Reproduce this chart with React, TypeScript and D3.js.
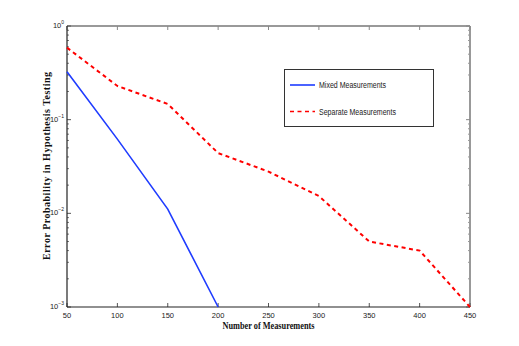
import React from 'react';
import * as d3 from 'd3';

// values (log axis)
const xTicks = [50, 100, 150, 200, 250, 300, 350, 400, 450];
const yDecades = [-3, -2, -1, 0];

const mixedX = [50, 100, 150, 200];
const mixedY = [0.325, 0.062, 0.0111, 0.001];

const sepX = [50, 100, 150, 200, 250, 300, 350, 400, 450];
const sepY = [0.587, 0.229, 0.147, 0.044, 0.0279, 0.0153, 0.005, 0.004, 0.001];

const seriesNames = ['Mixed Measurements', 'Separate Measurements'];
const legendWidths = [67, 77];

export default function App() {
  const width = 519;
  const height = 346;
  const m = { left: 67, right: 49, top: 26, bottom: 39 };

  const x = d3.scaleLinear().domain([50, 450]).range([m.left, width - m.right]);
  const y = d3.scaleLog().domain([1e-3, 1]).range([height - m.bottom, m.top]);

  const line = d3
    .line<[number, number]>()
    .x((d) => x(d[0]))
    .y((d) => y(d[1]));

  const mixed = mixedX.map((v, i) => [v, mixedY[i]] as [number, number]);
  const sep = sepX.map((v, i) => [v, sepY[i]] as [number, number]);

  // minor ticks 2..9 in each decade
  const minor: number[] = [];
  yDecades.slice(0, -1).forEach((e) => {
    for (let k = 2; k < 10; k++) minor.push(k * Math.pow(10, e));
  });

  const x0 = m.left;
  const x1 = width - m.right;
  const y0 = height - m.bottom;
  const y1 = m.top;
  const tickFont = "'Liberation Sans Narrow', 'Liberation Sans', Arial, sans-serif";
  const labelFont = "'Liberation Serif', 'Times New Roman', serif";

  return (
    <svg width={width} height={height} style={{ position: 'absolute', left: 0, top: 0 }}>
      <rect width={width} height={height} fill="#fff" />

      {/* top and right frame (grey) */}
      <line x1={x0} x2={x1} y1={y1} y2={y1} stroke="#999" strokeWidth={2} />
      <line x1={x1} x2={x1} y1={y1} y2={y0} stroke="#999" strokeWidth={2} />

      {/* x ticks */}
      {xTicks.map((t) => (
        <g key={'x' + t}>
          <line x1={x(t)} x2={x(t)} y1={y0} y2={y0 - 4} stroke="#555" />
          <line x1={x(t)} x2={x(t)} y1={y1} y2={y1 + 4} stroke="#888" />
          <text
            x={x(t)}
            y={y0 + 11}
            textAnchor="middle"
            fontFamily={tickFont}
            fontSize={7.5}
            fill="#222"
          >
            {t}
          </text>
        </g>
      ))}

      {/* y ticks */}
      {yDecades.map((e) => {
        const v = Math.pow(10, e);
        return (
          <g key={'y' + e}>
            <line x1={x0} x2={x0 + 4} y1={y(v)} y2={y(v)} stroke="#555" />
            <line x1={x1} x2={x1 - 4} y1={y(v)} y2={y(v)} stroke="#888" />
            <text
              x={x0 - 3}
              y={y(v) + 2}
              textAnchor="end"
              fontFamily={tickFont}
              fontSize={7.5}
              fill="#222"
            >
              10
              <tspan dy={-4} fontSize={5}>
                {e === 0 ? '0' : '\u2212' + -e}
              </tspan>
            </text>
          </g>
        );
      })}
      {minor.map((v, i) => (
        <g key={'m' + i}>
          <line x1={x0} x2={x0 + 2} y1={y(v)} y2={y(v)} stroke="#777" />
          <line x1={x1} x2={x1 - 2} y1={y(v)} y2={y(v)} stroke="#999" />
        </g>
      ))}

      {/* left and bottom axes */}
      <line x1={x0} x2={x0} y1={y1} y2={y0} stroke="#222" strokeWidth={1.2} />
      <line x1={x0} x2={x1} y1={y0} y2={y0} stroke="#222" strokeWidth={1.2} />

      {/* series */}
      <path d={line(mixed) ?? ''} fill="none" stroke="#1f3cff" strokeWidth={1.6} />
      <path
        d={line(sep) ?? ''}
        fill="none"
        stroke="#ff0000"
        strokeWidth={2}
        strokeDasharray="4,3.5"
      />

      {/* legend */}
      <rect x={284.5} y={69.5} width={149} height={57} fill="#fff" stroke="#333" />
      <line x1={290} x2={315} y1={85} y2={85} stroke="#1f3cff" strokeWidth={1.6} />
      <line
        x1={290}
        x2={315}
        y1={111.5}
        y2={111.5}
        stroke="#ff0000"
        strokeWidth={1.6}
        strokeDasharray="4,3.5"
      />
      {seriesNames.map((s, i) => (
        <text
          key={s}
          x={319}
          y={88 + i * 26.5}
          fontFamily={tickFont}
          fontSize={8.5}
          textLength={legendWidths[i]}
          lengthAdjust="spacingAndGlyphs"
          fill="#222"
        >
          {s}
        </text>
      ))}

      {/* axis labels */}
      <text
        x={(x0 + x1) / 2}
        y={329}
        textAnchor="middle"
        fontFamily={labelFont}
        fontWeight="bold"
        fontSize={10}
        textLength={92}
        lengthAdjust="spacingAndGlyphs"
        fill="#111"
      >
        Number of Measurements
      </text>
      <text
        transform={`translate(50,${166}) rotate(-90)`}
        textAnchor="middle"
        fontFamily={labelFont}
        fontWeight="bold"
        fontSize={10}
        textLength={188}
        lengthAdjust="spacing"
        fill="#111"
      >
        Error Probability in Hypothesis Testing
      </text>
    </svg>
  );
}
